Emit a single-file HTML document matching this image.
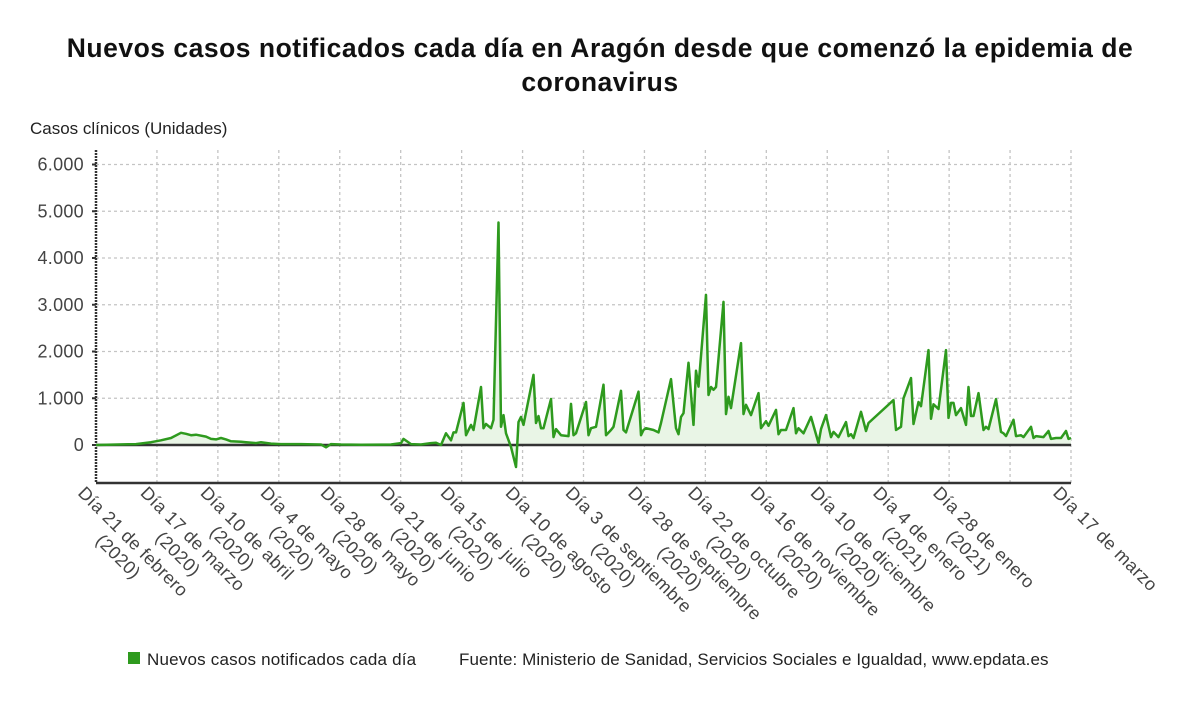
<!DOCTYPE html>
<html><head><meta charset="utf-8"><style>
body{margin:0;background:#fff;}
svg{display:block;font-family:"Liberation Sans","DejaVu Sans",sans-serif;}
</style></head><body>
<svg id="chart" width="1200" height="705" viewBox="0 0 1200 705" xmlns="http://www.w3.org/2000/svg">
<text x="600" y="57" text-anchor="middle" font-size="26.5" font-weight="bold" fill="#111" letter-spacing="0.5">Nuevos casos notificados cada día en Aragón desde que comenzó la epidemia de</text>
<text x="600" y="91" text-anchor="middle" font-size="26.5" font-weight="bold" fill="#111" letter-spacing="0.5">coronavirus</text>
<text x="30" y="134" font-size="17" fill="#222">Casos clínicos (Unidades)</text>
<g id="grid"></g>
<g id="yaxis"></g>
<g id="series"></g>
<g id="xaxis"></g>
<g>
<rect x="128" y="652" width="12" height="12" fill="#2e9a1e"/>
<text x="147" y="665" font-size="17" fill="#222" letter-spacing="0.2">Nuevos casos notificados cada día</text>
<text x="459" y="665" font-size="17" fill="#222" letter-spacing="0.1">Fuente: Ministerio de Sanidad, Servicios Sociales e Igualdad, www.epdata.es</text>
</g>
</svg>
<script>
const days=[0,16,22,26,30,34,36,38,40,44,46,48,50,52,54,58,60,64,66,70,74,82,90,92,94,98,106,118,122,123,126,130,134,136,138,140,142,143,144,147,148,150,151,154,155,156,158,159,161,162,163,164,166,168,169,170,171,175,176,177,178,179,182,183,184,186,189,190,191,192,196,197,198,200,203,204,206,207,210,211,212,217,218,219,220,223,225,226,230,232,233,234,235,237,239,240,241,244,245,246,247,248,251,252,253,254,258,259,260,262,265,266,268,269,272,273,274,276,279,280,281,283,286,289,290,292,294,295,297,300,301,302,303,306,308,309,319,320,322,323,326,327,329,330,333,334,335,337,340,341,342,343,344,346,348,349,350,351,353,355,356,357,360,362,363,364,367,368,370,371,374,375,376,379,381,382,384,386,388,389,390];
const cases=[0,20,60,100,150,260,240,210,220,180,130,120,150,120,80,70,60,40,60,30,20,20,10,-50,20,10,5,10,40,130,20,10,40,50,0,250,100,270,270,900,210,430,320,1240,360,450,360,540,4760,390,640,250,-40,-470,490,600,430,1500,470,620,360,360,985,170,340,210,190,880,210,250,920,210,360,390,1290,210,320,390,1160,320,270,1140,210,320,360,320,270,470,1410,360,230,600,680,1760,430,1590,1250,3210,1070,1240,1180,1240,3060,660,1030,790,2180,660,860,640,1110,360,510,410,750,230,320,320,790,250,360,250,600,40,340,640,170,280,170,490,190,230,150,710,300,470,960,320,390,1000,1430,450,920,830,2030,560,870,770,2030,580,900,900,640,790,430,1240,620,620,1110,320,390,340,980,280,250,190,540,190,210,170,390,150,190,170,300,130,150,150,300,130,150];
const yTicks=[0,1000,2000,3000,4000,5000,6000];
const yTickLabels=["0","1.000","2.000","3.000","4.000","5.000","6.000"];
const xLabelDays=[0,25,49,73,97,121,145,171,195,220,244,269,293,318,342,390];
const xLabelLine1=["Día 21 de febrero","Día 17 de marzo","Día 10 de abril","Día 4 de mayo","Día 28 de mayo","Día 21 de junio","Día 15 de julio","Día 10 de agosto","Día 3 de septiembre","Día 28 de septiembre","Día 22 de octubre","Día 16 de noviembre","Día 10 de diciembre","Día 4 de enero","Día 28 de enero","Día 17 de marzo"];
const xLabelLine2=["(2020)","(2020)","(2020)","(2020)","(2020)","(2020)","(2020)","(2020)","(2020)","(2020)","(2020)","(2020)","(2020)","(2021)","(2021)",""];

const NS="http://www.w3.org/2000/svg";
const X0=96,X1=1071,Y0=445,PX=46.75,TOP=150,BOT=483,DMAX=390;
const xs=d=>X0+d*(X1-X0)/DMAX;
const ys=v=>Y0-v*PX/1000;
function mk(tag,attrs,parent){const e=document.createElementNS(NS,tag);for(const k in attrs)e.setAttribute(k,attrs[k]);parent.appendChild(e);return e;}
const grid=document.getElementById('grid'),yax=document.getElementById('yaxis'),ser=document.getElementById('series'),xax=document.getElementById('xaxis');
for(let k=1;k<=16;k++){const x=X0+k*(X1-X0)/16;
 const l=mk('line',{x1:x,x2:x,y1:TOP,y2:BOT,stroke:'#c4c4c4','stroke-width':1.3,'stroke-dasharray':'3,3'},grid);
 
 }
yTicks.forEach((v,i)=>{const y=ys(v);
 if(v!==0){const l=mk('line',{x1:X0,x2:X1,y1:y,y2:y,stroke:'#c4c4c4','stroke-width':1.3,'stroke-dasharray':'3,3'},grid);
 
 }
 const t=mk('text',{x:84,y:y+6,'text-anchor':'end','font-size':18,fill:'#444','letter-spacing':0.3},yax);t.textContent=yTickLabels[i];
 
 
 const tk=mk('line',{x1:X0-4,x2:X0,y1:y,y2:y,stroke:'#333','stroke-width':2},yax);
 
 
});
const ya=mk('line',{x1:X0,x2:X0,y1:TOP,y2:BOT,stroke:'#333','stroke-width':2.5,'stroke-dasharray':'2,1'},yax);


let pts=days.map((d,i)=>xs(d).toFixed(1)+','+ys(cases[i]).toFixed(1));
const area=mk('polygon',{points:xs(days[0])+','+Y0+' '+pts.join(' ')+' '+xs(days[days.length-1])+','+Y0,fill:'#e9f5e6'},ser);


const zl=mk('line',{x1:X0,x2:X1,y1:Y0,y2:Y0,stroke:'#333','stroke-width':2.5},ser);


const line=mk('polyline',{points:pts.join(' '),fill:'none',stroke:'#2e9a1e','stroke-width':2.5,'stroke-linejoin':'round'},ser);


const xa=mk('line',{x1:X0,x2:X1,y1:BOT,y2:BOT,stroke:'#333','stroke-width':2.5},xax);


xLabelDays.forEach((d,i)=>{const x=xs(d);
 const g=mk('g',{transform:'translate('+(x-10)+',485) rotate(45)'},xax);
 
 
 const t1=mk('text',{x:0,y:0,'font-size':18,fill:'#444','dominant-baseline':'hanging','letter-spacing':0.4},g);t1.textContent=xLabelLine1[i];
 if(xLabelLine2[i]){const w=t1.getComputedTextLength();
  const t2=mk('text',{x:w/2,y:21,'text-anchor':'middle','font-size':18,fill:'#444','dominant-baseline':'hanging','letter-spacing':0.4},g);t2.textContent=xLabelLine2[i];}
});
</script>
</body></html>
